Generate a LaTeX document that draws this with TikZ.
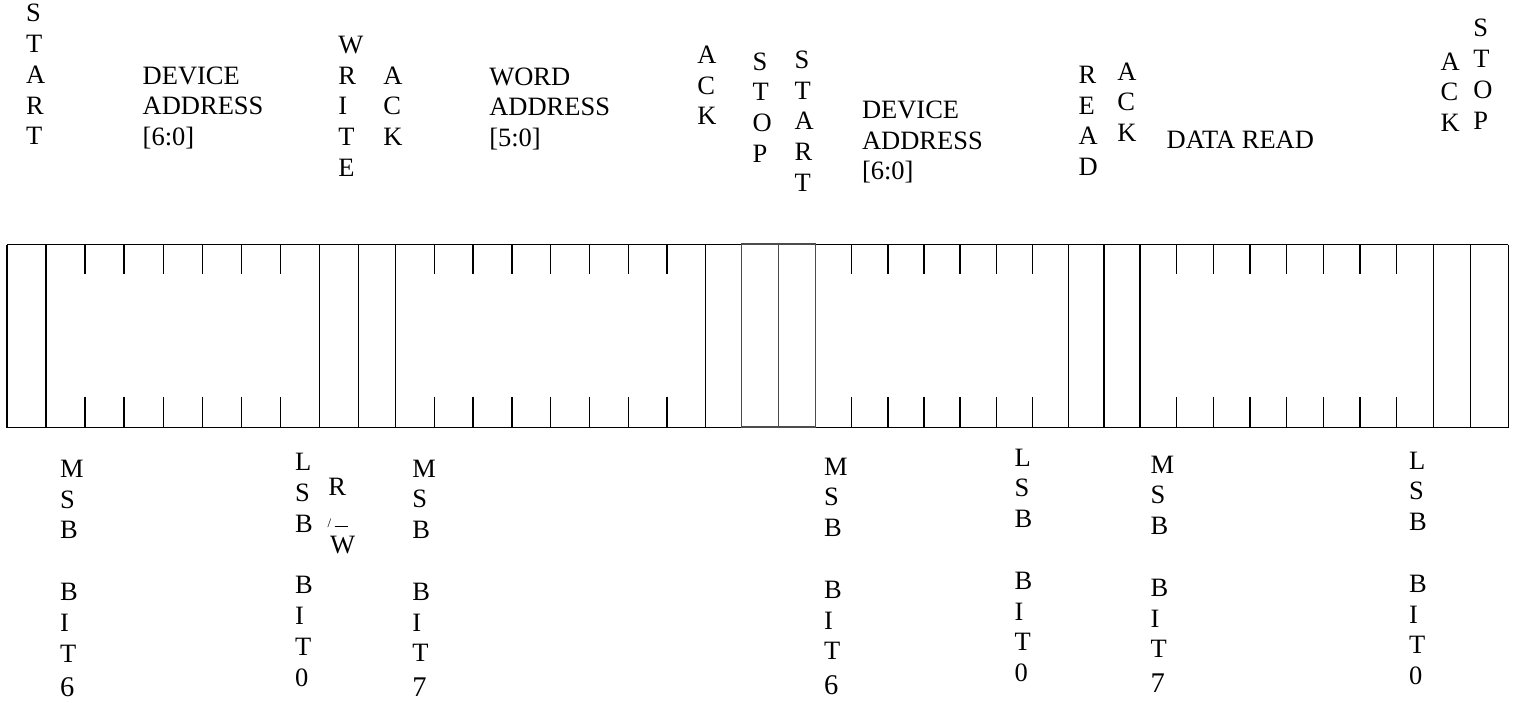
\documentclass[tikz,border=0pt]{standalone}
\usepackage{fontspec}
\setmainfont{Liberation Serif}
\newcommand\vstack[1]{\vtop{\baselineskip=30.8pt\lineskiplimit=-100pt\lineskip=0pt\halign{##\hfil\cr#1\crcr}}}
\newcommand\bigdigit[1]{\raisebox{-4pt}{\fontsize{28.5}{30}\selectfont #1}}
\begin{document}
\begin{tikzpicture}[x=1pt,y=-1pt,
  lbl/.style={anchor=base west, inner sep=0pt, outer sep=0pt, font=\fontsize{26.5}{30.8}\selectfont},
  frame/.style={line width=1.3pt, black},
  graybox/.style={line width=1.2pt, black!70},
  tick/.style={line width=1.3pt, black}]
\useasboundingbox (0,0) rectangle (1522,702);
% main frame (top and bottom edges, interrupted by the STOP/START box)
\draw[frame] (7,244.7) -- (741.7,244.7) (815.7,244.7) -- (1508.3,244.7);
\draw[frame] (7,427.7) -- (741.7,427.7) (815.7,427.7) -- (1508.3,427.7);
% full-height separators
\foreach \x in {7,46,319.4,358.7,395.5,705.8,1068.3,1104,1140,1433.3,1470.7,1508.3}
  \draw[frame] (\x,244.7) -- (\x,427.7);
\draw[frame] (815.7,244.7) -- (815.7,427.7);
% STOP / START box
\draw[graybox] (741.7,244) rectangle (815.7,427);
\draw[graybox] (778.3,244) -- (778.3,427);
% bit ticks
\foreach \x in {85.1,124.1,163.2,202.2,241.3,280.3,
                434.3,473.1,511.9,550.7,589.5,628.2,667.0,
                851.8,887.9,924.0,960.1,996.2,1032.2,
                1176.7,1213.3,1250,1286.6,1323.3,1360,1396.6}
  {\draw[tick] (\x,244.7) -- (\x,274.3);
   \draw[tick] (\x,396.7) -- (\x,427.7);}
% top labels
\node[lbl] (startA) at (26,21.7) {\vstack{S\cr T\cr A\cr R\cr T}};
\node[lbl] (devA) at (142.7,84) {\vstack{DEVICE\cr ADDRESS\cr [6:0]}};
\node[lbl] (write) at (338.3,53.3) {\vstack{W\cr R\cr I\cr T\cr E}};
\node[lbl] (ackA) at (383.3,84) {\vstack{A\cr C\cr K}};
\node[lbl] (word) at (489.3,85) {\vstack{WORD\cr ADDRESS\cr [5:0]}};
\node[lbl] (ackB) at (697.3,63.3) {\vstack{A\cr C\cr K}};
\node[lbl] (stopA) at (752.7,70) {\vstack{S\cr T\cr O\cr P}};
\node[lbl] (startB) at (794.7,68.3) {\vstack{S\cr T\cr A\cr R\cr T}};
\node[lbl] (devB) at (862,118.3) {\vstack{DEVICE\cr ADDRESS\cr [6:0]}};
\node[lbl] (read) at (1078.7,83.3) {\vstack{R\cr E\cr A\cr D}};
\node[lbl] (ackC) at (1117.3,80) {\vstack{A\cr C\cr K}};
\node[lbl] (data) at (1166.7,148.3) {DATA READ};
\node[lbl] (ackD) at (1440.7,70) {\vstack{A\cr C\cr K}};
\node[lbl] (stopB) at (1473.3,36.7) {\vstack{S\cr T\cr O\cr P}};
% bottom labels
\node[lbl] (msbA) at (60,477.3) {\vstack{M\cr S\cr B\cr \cr B\cr I\cr T\cr \bigdigit{6}}};
\node[lbl] (lsbA) at (295,470.7) {\vstack{L\cr S\cr B\cr \cr B\cr I\cr T\cr 0}};
\node[lbl] (rwR) at (328.3,495) {R};
\node[lbl] (rwS) at (327.7,527.3) {{\fontsize{13}{13}\selectfont/}\hspace{3.3pt}\rule{13.3pt}{1.3pt}};
\node[lbl] (rwW) at (330,553.3) {W};
\node[lbl] (msbB) at (412.3,477) {\vstack{M\cr S\cr B\cr \cr B\cr I\cr T\cr \bigdigit{7}}};
\node[lbl] (msbC) at (824,475) {\vstack{M\cr S\cr B\cr \cr B\cr I\cr T\cr \bigdigit{6}}};
\node[lbl] (lsbB) at (1014.6,466) {\vstack{L\cr S\cr B\cr \cr B\cr I\cr T\cr 0}};
\node[lbl] (msbD) at (1150.6,473) {\vstack{M\cr S\cr B\cr \cr B\cr I\cr T\cr \bigdigit{7}}};
\node[lbl] (lsbC) at (1409,469) {\vstack{L\cr S\cr B\cr \cr B\cr I\cr T\cr 0}};
\end{tikzpicture}
\end{document}
